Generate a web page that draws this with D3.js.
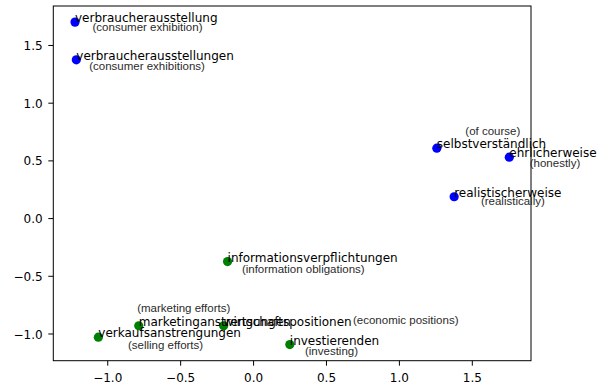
<!DOCTYPE html>
<html>
<head>
<meta charset="utf-8">
<script src="https://cdn.jsdelivr.net/npm/d3@7"></script>
<style>
  html, body { margin: 0; padding: 0; background: #fff; }
  svg { display: block; }
</style>
</head>
<body>
<script>
// Word embeddings projected to 2D, with English glosses.
const words = [
  "verbraucherausstellung", "verbraucherausstellungen", "selbstverständlich",
  "ehrlicherweise", "realistischerweise", "informationsverpflichtungen",
  "marketinganstrengungen", "wirtschaftspositionen", "verkaufsanstrengungen",
  "investierenden"
];
const glosses = [
  "(consumer exhibition)", "(consumer exhibitions)", "(of course)",
  "(honestly)", "(realistically)", "(information obligations)",
  "(marketing efforts)", "(economic positions)", "(selling efforts)",
  "(investing)"
];
const xValues = [-1.221, -1.212, 1.260, 1.757, 1.379, -0.175, -0.784, -0.202, -1.061, 0.252];
const yValues = [1.698, 1.371, 0.606, 0.528, 0.185, -0.377, -0.933, -0.933, -1.032, -1.096];
const groups  = [0, 0, 0, 0, 0, 1, 1, 1, 1, 1];
const xTicks = [-1.0, -0.5, 0.0, 0.5, 1.0, 1.5];
const yTicks = [-1.0, -0.5, 0.0, 0.5, 1.0, 1.5];

// Gloss placement relative to each point (pixels), chosen to keep labels apart.
const glossPlacement = [
  { dx: 72.5, dy: 9,    anchor: "middle" },
  { dx: 70.7, dy: 10,   anchor: "middle" },
  { dx: 56,   dy: -13,  anchor: "middle" },
  { dx: 45.7, dy: 9.4,  anchor: "middle" },
  { dx: 58.7, dy: 8.3,  anchor: "middle" },
  { dx: 75.7, dy: 11,   anchor: "middle" },
  { dx: 45,   dy: -14,  anchor: "middle" },
  { dx: 129.4, dy: -2,  anchor: "start" },
  { dx: 67.2, dy: 11.7, anchor: "middle" },
  { dx: 41.7, dy: 10,   anchor: "middle" }
];
const groupColors = ["#0000ff", "#008000"];

const W = 606, H = 385;
const plot = { left: 53.3, right: 531, top: 6, bottom: 360.7 };

const points = words.map((w, i) => ({
  word: w, gloss: glosses[i], x: xValues[i], y: yValues[i], g: groups[i], place: glossPlacement[i]
}));

// Autoscale with 5% margins on each side.
function padded(vals) {
  const [lo, hi] = d3.extent(vals);
  const m = (hi - lo) * 0.05;
  return [lo - m, hi + m];
}
const x = d3.scaleLinear().domain(padded(xValues)).range([plot.left, plot.right]);
const y = d3.scaleLinear().domain(padded(yValues)).range([plot.bottom, plot.top]);

const svg = d3.select("body").append("svg").attr("width", W).attr("height", H);
const fmt = d3.format(".1f");
const tickFont = "DejaVu Sans, sans-serif";

// x axis
const gx = svg.append("g").attr("transform", `translate(0,${plot.bottom})`)
  .call(d3.axisBottom(x).tickValues(xTicks).tickFormat(fmt).tickSize(5).tickSizeOuter(0).tickPadding(7.4));
gx.select(".domain").remove();
gx.selectAll(".tick line").attr("stroke", "#000").attr("stroke-width", 1);
gx.selectAll(".tick text").attr("fill", "#000").style("font-family", tickFont).style("font-size", "12px");

// y axis
const gy = svg.append("g").attr("transform", `translate(${plot.left},0)`)
  .call(d3.axisLeft(y).tickValues(yTicks).tickFormat(fmt).tickSize(5).tickSizeOuter(0).tickPadding(5.6));
gy.select(".domain").remove();
gy.selectAll(".tick line").attr("stroke", "#000").attr("stroke-width", 1);
gy.selectAll(".tick text").attr("fill", "#000").attr("dy", "0.38em")
  .style("font-family", tickFont).style("font-size", "12px");

// frame
svg.append("rect")
  .attr("x", plot.left).attr("y", plot.top)
  .attr("width", plot.right - plot.left).attr("height", plot.bottom - plot.top)
  .attr("fill", "none").attr("stroke", "#000").attr("stroke-width", 1);

// points
svg.append("g").selectAll("circle").data(points).join("circle")
  .attr("cx", d => x(d.x)).attr("cy", d => y(d.y)).attr("r", 4.6)
  .attr("fill", d => groupColors[d.g]);

// word labels
svg.append("g").selectAll("text").data(points).join("text")
  .attr("x", d => x(d.x)).attr("y", d => y(d.y))
  .style("font-family", "DejaVu Sans, sans-serif").style("font-size", "12px")
  .attr("fill", "#000")
  .text(d => d.word);

// glosses
svg.append("g").selectAll("text").data(points).join("text")
  .attr("x", d => x(d.x) + d.place.dx).attr("y", d => y(d.y) + d.place.dy)
  .attr("text-anchor", d => d.place.anchor)
  .style("font-family", "Liberation Sans, Arial, sans-serif").style("font-size", "11.5px")
  .attr("fill", "#2b2b2b")
  .text(d => d.gloss);
</script>
</body>
</html>
